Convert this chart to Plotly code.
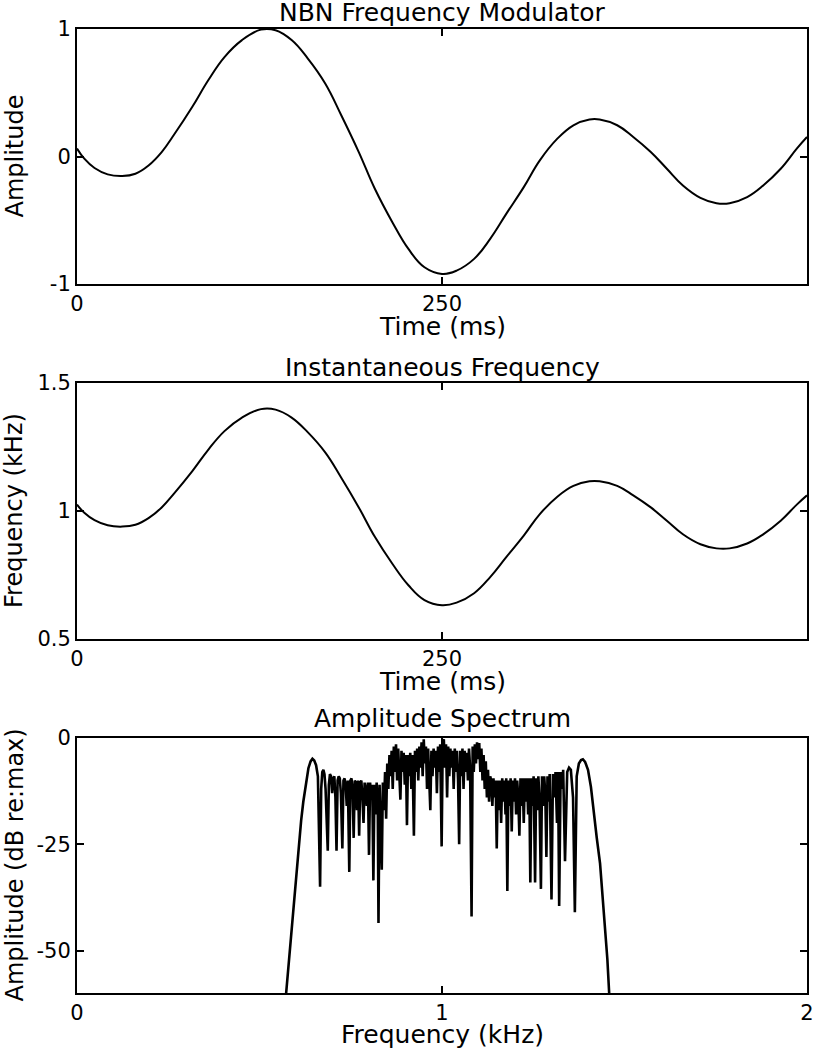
import plotly.graph_objects as go

# ---------------- data ----------------
time_ms = [0, 5, 12, 21, 31, 40, 49, 58, 67, 79, 90, 101, 113, 126, 136, 147, 158, 170, 181, 193,
           204, 216, 227, 238, 250, 260, 272, 283, 294, 306, 317, 329, 340, 351, 358, 370, 381, 393,
           404, 415, 427, 438, 447, 459, 470, 482, 493, 500]

modulator_amp = [0.062, -0.017, -0.09, -0.14, -0.153, -0.135, -0.07, 0.035, 0.18, 0.39,
                 0.60, 0.78, 0.913, 0.995, 0.99, 0.913, 0.77, 0.573, 0.324, 0.035,
                 -0.253, -0.515, -0.725, -0.869, -0.921, -0.895, -0.803, -0.646, -0.45, -0.24,
                 -0.03, 0.14, 0.245, 0.29, 0.29, 0.245, 0.153, 0.035, -0.096, -0.227,
                 -0.324, -0.366, -0.366, -0.318, -0.227, -0.096, 0.062, 0.153]

inst_freq_khz = [1.025, 0.993, 0.964, 0.944, 0.939, 0.946, 0.972, 1.014, 1.072, 1.156,
                 1.24, 1.312, 1.365, 1.398, 1.396, 1.365, 1.308, 1.229, 1.13, 1.014,
                 0.899, 0.794, 0.71, 0.652, 0.632, 0.642, 0.679, 0.742, 0.82, 0.904,
                 0.988, 1.056, 1.098, 1.116, 1.116, 1.098, 1.061, 1.014, 0.962, 0.909,
                 0.87, 0.854, 0.854, 0.873, 0.909, 0.962, 1.025, 1.061]

# spectrum: rising edge + lower lobe
spec_f_rise = [0.570, 0.573, 0.578, 0.584, 0.590, 0.596, 0.602, 0.608, 0.614, 0.620,
               0.627, 0.634, 0.640, 0.645, 0.650, 0.655, 0.660]
spec_db_rise = [-63, -60, -55, -49.4, -43, -37, -30.7, -25, -19.5, -15,
                -10.5, -7.1, -5.5, -4.9, -5.3, -6.4, -9]

# spectrum: lower shelf
spec_f_low = [0.664, 0.666, 0.669, 0.672, 0.675, 0.678, 0.681, 0.684, 0.687, 0.690,
              0.693, 0.696, 0.699, 0.702, 0.705, 0.708, 0.711, 0.714, 0.717, 0.720,
              0.723, 0.727, 0.730, 0.733, 0.736, 0.739, 0.742, 0.746, 0.749, 0.752,
              0.755, 0.758, 0.761, 0.764, 0.767, 0.770, 0.773, 0.776, 0.779, 0.782,
              0.785, 0.788, 0.791, 0.794, 0.797, 0.800, 0.803, 0.806, 0.809, 0.812,
              0.815, 0.818, 0.821, 0.824, 0.826, 0.829, 0.832, 0.835, 0.838, 0.841]
spec_db_low = [-22, -35, -12, -8, -7.5, -8.5, -12, -18, -26.5, -11,
               -8.5, -9, -13, -9.5, -9, -14, -26.5, -10, -9, -9.5,
               -13, -26, -10, -9.5, -11, -16, -10, -31.5, -10, -9.5,
               -12, -23.5, -10, -10.5, -17, -10, -23, -10.5, -10, -14,
               -20, -10.5, -12, -16, -10.5, -27.5, -10.5, -14, -11, -33.5,
               -11, -18, -10.5, -16, -43.5, -11, -20, -31, -10.5, -17]

# spectrum: central band
spec_f_mid = [0.844, 0.847, 0.850, 0.853, 0.856, 0.859, 0.862, 0.865, 0.868, 0.871,
              0.874, 0.877, 0.880, 0.883, 0.886, 0.889, 0.892, 0.895, 0.898, 0.901,
              0.904, 0.907, 0.910, 0.913, 0.916, 0.919, 0.923, 0.926, 0.929, 0.932,
              0.935, 0.938, 0.941, 0.944, 0.947, 0.950, 0.953, 0.956, 0.959, 0.962,
              0.965, 0.968, 0.971, 0.974, 0.977, 0.980, 0.983, 0.986, 0.989, 0.992,
              0.995, 0.999, 1.002, 1.005, 1.008, 1.011, 1.014, 1.017, 1.020, 1.023,
              1.026, 1.029, 1.032, 1.035, 1.038, 1.041, 1.044, 1.047, 1.050, 1.053,
              1.056, 1.059, 1.062, 1.065, 1.068, 1.071, 1.074, 1.077, 1.081, 1.084,
              1.087, 1.090, 1.093, 1.096, 1.099, 1.102, 1.105, 1.108, 1.111, 1.114,
              1.117, 1.120, 1.123, 1.126, 1.129, 1.132]
spec_db_mid = [-8, -19, -6, -12, -4, -9, -3, -12, -2, -8,
               -1.5, -10, -2.5, -9, -14.5, -3, -8, -3.5, -11, -4,
               -20.5, -4, -9, -3.5, -12, -4, -23, -3, -8, -2.5,
               -10, -2, -7, -1, -9, -0.3, -6, -2, -12, -2.5,
               -8, -17, -3, -9, -2.5, -7, -3, -13, -2, -8,
               -1.5, -25.5, -1, -0.3, -7, -1.5, -14, -2, -9, -2.5,
               -7, -3, -12, -2.5, -8, -3, -10, -25, -3, -9,
               -2.5, -12, -3, -8, -3.5, -10, -2.5, -7, -42, -2,
               -8, -1.5, -6, -1, -5, -1.2, -8, -2.5, -10, -4,
               -12, -5.5, -14, -7.5, -15, -9]

# spectrum: upper shelf + upper lobe + falling edge
spec_f_high = [1.135, 1.138, 1.141, 1.144, 1.147, 1.150, 1.153, 1.156, 1.159, 1.162,
               1.165, 1.168, 1.171, 1.174, 1.176, 1.179, 1.182, 1.185, 1.188, 1.191,
               1.194, 1.197, 1.200, 1.203, 1.206, 1.209, 1.212, 1.215, 1.218, 1.221,
               1.224, 1.227, 1.230, 1.233, 1.236, 1.239, 1.242, 1.245, 1.248, 1.251,
               1.255, 1.258, 1.261, 1.264, 1.267, 1.271, 1.274, 1.277, 1.280, 1.283,
               1.286, 1.289, 1.292, 1.295, 1.300, 1.304, 1.308, 1.311, 1.315, 1.318,
               1.321, 1.325, 1.329, 1.332, 1.337, 1.343, 1.348, 1.353, 1.359, 1.364,
               1.369, 1.375, 1.381, 1.386, 1.392, 1.400, 1.408, 1.415, 1.424, 1.433,
               1.440, 1.447, 1.453, 1.458, 1.462]
spec_db_high = [-10, -16, -9.5, -14, -10, -26, -10, -17, -10, -20,
                -9.5, -15, -10, -18, -9.5, -36, -10, -16, -9.5, -22,
                -10, -15, -9.5, -18, -10, -14, -23, -9.5, -16, -9.5,
                -20, -9.5, -15, -9.5, -18, -9.5, -34, -9.5, -16, -9,
                -34, -9.5, -17, -9, -14, -35.5, -9, -16, -9, -13,
                -28, -9, -15, -8.5, -38, -8.5, -14, -8, -20, -8,
                -39.5, -8, -12, -7.5, -29, -8, -7, -7.5, -14, -41,
                -9, -6, -5.2, -5, -5.6, -7.5, -11.5, -17.5, -23.5, -29.5,
                -37, -45, -52, -60, -64]

spec_f = spec_f_rise + spec_f_low + spec_f_mid + spec_f_high
spec_db = spec_db_rise + spec_db_low + spec_db_mid + spec_db_high

titles = ["NBN Frequency Modulator", "Instantaneous Frequency", "Amplitude Spectrum"]
xlabels = ["Time (ms)", "Time (ms)", "Frequency (kHz)"]
ylabels = ["Amplitude", "Frequency (kHz)", "Amplitude (dB re:max)"]

# ---------------- layout helpers ----------------
W, H = 826, 1050
FONT = "DejaVu Sans"
LEFT, RIGHT = 77, 807
panels_px = [(29, 284), (383, 639), (738, 993)]  # (top, bottom) in page pixels


def py(p):
    return 1 - p / H


fig = go.Figure()
fig.add_trace(go.Scatter(x=time_ms, y=modulator_amp, mode="lines",
                         line=dict(color="black", width=2, shape="spline", smoothing=1.2),
                         xaxis="x", yaxis="y", showlegend=False))
fig.add_trace(go.Scatter(x=time_ms, y=inst_freq_khz, mode="lines",
                         line=dict(color="black", width=2, shape="spline", smoothing=1.2),
                         xaxis="x2", yaxis="y2", showlegend=False))
fig.add_trace(go.Scatter(x=spec_f, y=spec_db, mode="lines", line=dict(color="black", width=2.6),
                         xaxis="x3", yaxis="y3", showlegend=False))

axis_common = dict(showline=True, linecolor="black", linewidth=2, mirror="ticks", ticks="inside",
                   ticklen=7, tickwidth=1.5, tickcolor="black", showgrid=False, zeroline=False,
                   automargin=False,
                   tickfont=dict(family=FONT, size=21, color="black"), fixedrange=True)

xdom = [LEFT / W, RIGHT / W]
xranges = [[0, 500], [0, 500], [0, 2]]
xticks = [[0, 250, 500], [0, 250, 500], [0, 1, 2]]
yranges = [[-1, 1], [0.5, 1.5], [-60, 0]]
yticks = [[-1, 0, 1], [0.5, 1, 1.5], [-50, -25, 0]]
yticktext = [["-1", "0", "1"], ["0.5", "1", "1.5"], ["-50", "-25", "0"]]

layout = dict(width=W, height=H, margin=dict(l=0, r=0, t=0, b=0, autoexpand=False),
              paper_bgcolor="white", plot_bgcolor="white", showlegend=False)
for i in range(3):
    sfx = "" if i == 0 else str(i + 1)
    top, bot = panels_px[i]
    layout["xaxis" + sfx] = dict(axis_common, domain=xdom, range=xranges[i], tickvals=xticks[i],
                                 anchor="y" + sfx, ticklabelstandoff=0)
    layout["yaxis" + sfx] = dict(axis_common, domain=[py(bot), py(top)], range=yranges[i],
                                 tickvals=yticks[i], ticktext=yticktext[i], anchor="x" + sfx,
                                 ticklabelstandoff=0)
fig.update_layout(**layout)

cx = (LEFT + RIGHT) / 2 / W
title_cap_center = [12, 367, 718]
xlabel_cap_center = [326, 681, 1034]
ylabel_x = 14
annotations = []
for i in range(3):
    top, bot = panels_px[i]
    annotations.append(dict(text=titles[i], x=cx, y=py(title_cap_center[i]), xref="paper", yref="paper",
                            xanchor="center", yanchor="middle", showarrow=False,
                            font=dict(family=FONT, size=25, color="black")))
    annotations.append(dict(text=xlabels[i], x=cx, y=py(xlabel_cap_center[i]), xref="paper", yref="paper",
                            xanchor="center", yanchor="middle", showarrow=False,
                            font=dict(family=FONT, size=25, color="black")))
    annotations.append(dict(text=ylabels[i], x=ylabel_x / W, y=py((top + bot) / 2), xref="paper",
                            yref="paper", xanchor="center", yanchor="middle", showarrow=False, textangle=-90,
                            font=dict(family=FONT, size=24, color="black")))
fig.update_layout(annotations=annotations)

# remove the default 8 px page margin so the figure fills the window exactly
fig.write_html("out.html", config={"displayModeBar": False},
               post_script="document.body.style.margin='0px';")
